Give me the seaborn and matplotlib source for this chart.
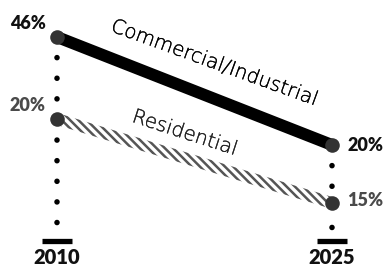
import numpy as np
import pandas as pd
import matplotlib
matplotlib.use('Agg')
import matplotlib.pyplot as plt
import matplotlib.patheffects as pe
import seaborn as sns

# ── Data ─────────────────────────────────────────────────────────────────────
YEARS = [2010, 2025]
COMMERCIAL = [46, 20]
RESIDENTIAL = [20, 15]
SERIES_LABELS = ['Commercial/Industrial', 'Residential']

sns.set_style('white')
plt.rcParams['font.family'] = ['Lato', 'DejaVu Sans']
plt.rcParams['hatch.linewidth'] = 1.8

df_com = pd.DataFrame({'year': YEARS, 'share': COMMERCIAL})
df_res = pd.DataFrame({'year': YEARS, 'share': RESIDENTIAL})

fig = plt.figure(figsize=(3.88, 2.68), dpi=100)
ax = fig.add_axes([0, 0, 1, 1])
ax2 = ax.twinx()

# each series has its own (unshared) vertical scale, as in the original
ax.set_xlim(2006.89, 2028.05)
ax.set_ylim(-9.61, 54.91)
ax2.set_ylim(11.13, 27.08)

dark = '#333333'
grey = '#4a4a4a'

# dotted drop lines from the commercial points
for yr, v in zip(YEARS, COMMERCIAL):
    ax.plot([yr, yr], [v, 0], color='black', lw=4, ls=(0, (0.01, 3.7)),
            dash_capstyle='round', zorder=1)

# base tick bars
ax.plot(YEARS, [-3, -3], ls='none', marker='_', ms=21.6, mew=3.8, color='black')
for yr in YEARS:
    ax.text(yr, -7.2, str(yr), ha='center', va='center', fontsize=14.5,
            fontweight='heavy', color='#111111')

# commercial line
sns.lineplot(data=df_com, x='year', y='share', ax=ax, color='black', lw=8.6,
             solid_capstyle='butt', zorder=2, legend=False)
sns.scatterplot(data=df_com, x='year', y='share', ax=ax, color=dark, s=110,
                linewidth=0, zorder=3, legend=False)

# residential hatched band
res = np.array(RESIDENTIAL, dtype=float)
ax2.fill_between(YEARS, res - 0.36, res + 0.36, facecolor='none',
                 edgecolor='#555555', hatch='\\\\\\\\', linewidth=0, zorder=2)
sns.scatterplot(data=df_res, x='year', y='share', ax=ax2, color=dark, s=110,
                linewidth=0, zorder=3, legend=False)

# value labels
ax.annotate(f'{COMMERCIAL[0]}%', (YEARS[0], COMMERCIAL[0]), xytext=(-21, 10),
            textcoords='offset points', ha='center', va='center',
            fontsize=13, fontweight='heavy', color='#111111')
ax.annotate(f'{COMMERCIAL[1]}%', (YEARS[1], COMMERCIAL[1]), xytext=(11, 0),
            textcoords='offset points', ha='left', va='center',
            fontsize=13, fontweight='heavy', color='#111111')
ax2.annotate(f'{RESIDENTIAL[0]}%', (YEARS[0], RESIDENTIAL[0]), xytext=(-21.5, 10),
             textcoords='offset points', ha='center', va='center',
             fontsize=13, fontweight='heavy', color=grey)
ax2.annotate(f'{RESIDENTIAL[1]}%', (YEARS[1], RESIDENTIAL[1]), xytext=(11, 1.5),
             textcoords='offset points', ha='left', va='center',
             fontsize=13, fontweight='heavy', color=grey)

# series labels along the lines - thin face, slightly thickened with a stroke
mid_x = np.mean(YEARS)
ax.annotate(SERIES_LABELS[0], (mid_x, np.mean(COMMERCIAL)), xytext=(14.5, 20),
            textcoords='offset points', ha='center', va='center',
            rotation=-20, fontsize=14.3, fontweight='light', color='black',
            family=['DejaVu Sans'],
            path_effects=[pe.withStroke(linewidth=0.2, foreground='black')])
ax2.annotate(SERIES_LABELS[1], (mid_x, np.mean(RESIDENTIAL)), xytext=(-7, 20),
             textcoords='offset points', ha='center', va='center',
             rotation=-18, fontsize=14.3, fontweight='light', color='#222222',
             family=['DejaVu Sans'],
             path_effects=[pe.withStroke(linewidth=0.2, foreground='#222222')])

ax.axis('off')
ax2.axis('off')

fig.savefig('out.png', dpi=100)
